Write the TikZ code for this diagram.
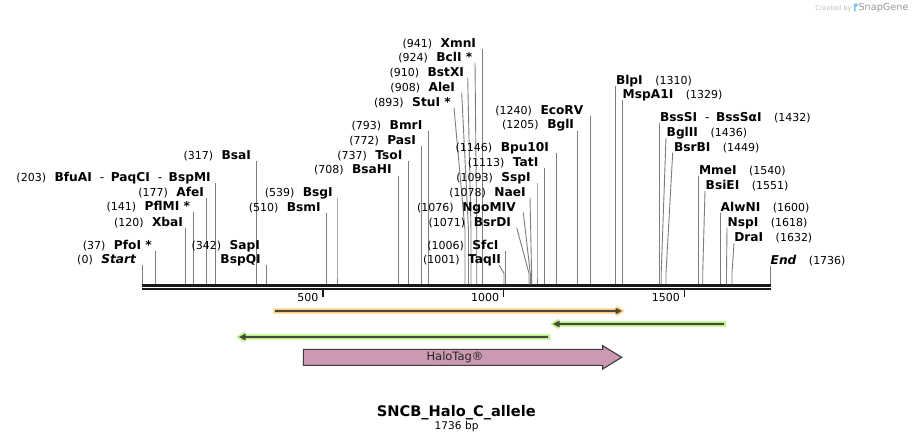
\documentclass[tikz,border=0pt]{standalone}
\usepackage{fontspec}
\setmainfont{DejaVu Sans}
\definecolor{sitec}{RGB}{125,125,125}
\definecolor{bbc}{RGB}{25,25,25}
\definecolor{orangec}{RGB}{255,204,125}
\definecolor{greenc}{RGB}{182,240,128}
\definecolor{darkc}{RGB}{72,72,60}
\definecolor{haloc}{RGB}{204,153,178}
\definecolor{haloedge}{RGB}{60,60,60}
\definecolor{logoc}{RGB}{120,196,240}
\newcommand\numf{\fontsize{11}{13}\selectfont\mdseries}
\newcommand\namef{\fontsize{12.2}{14}\selectfont\bfseries}
\newcommand\sepd{\hspace{8pt}{\mdseries -}\hspace{6.5pt}}
\newcommand\labL[2]{{\numf(#1)}\hspace{8.5pt}{\namef #2}}
\newcommand\labR[2]{{\namef #1}\hspace{12.5pt}{\numf(#2)}}
% #1 id, #2 row centre y, #3 text, #4 text end x, #5 line top x, #6 elbow y, #7 site x
\newcommand\siteLeft[7]{%
  \node[lbl,anchor=base east] (#1) at (#4,#2+4.4) {#3};
  \coordinate (#1t) at (#5,#2+6);
  \coordinate (#1e) at (#7,#6);
  \coordinate (#1s) at (#7,284.3);
  \draw[site] (#1t) -- (#1e) -- (#1s);
}
\newcommand\siteRight[7]{%
  \node[lbl,anchor=base west] (#1) at (#4,#2+4.4) {#3};
  \coordinate (#1t) at (#5,#2+6);
  \coordinate (#1e) at (#7,#6);
  \coordinate (#1s) at (#7,284.3);
  \draw[site] (#1t) -- (#1e) -- (#1s);
}
\begin{document}
\begin{tikzpicture}[x=1pt,y=-1pt,
  lbl/.style={inner sep=0pt,outer sep=0pt,text=black},
  site/.style={draw=sitec,line width=0.9pt},
  backbone/.style={fill=bbc},
  tickmark/.style={draw=bbc,line width=1.6pt},
  ticklbl/.style={lbl,anchor=base east,font=\numf},
  featline/.style={draw=darkc,line width=2pt},
  halo/.style={fill=haloc,draw=haloedge,line width=1.1pt}]
\useasboundingbox (0,0) rectangle (913,442);
\fill[white] (0,0) rectangle (913,442);

% backbone
\fill[backbone] (142.3,284.3) rectangle (770.9,286.8);
\fill[backbone] (142.3,288.1) rectangle (770.9,290.1);
\coordinate (t500) at (322.9,290);
\coordinate (t1000) at (503.6,290);
\coordinate (t1500) at (684.3,290);
\foreach \t/\v in {t500/500,t1000/1000,t1500/1500}{
  \draw[tickmark] (\t) -- ++(0,7);
  \node[ticklbl] (l\t) at ([shift={(-4.5,11)}]\t) {\v};
}

% left-hand labels
\siteLeft{start}{259.3}{\labL{0}{\itshape Start}}{136}{142.5}{273.3}{142.5}
\siteLeft{pfoi}{245}{\labL{37}{PfoI *}}{151.7}{155.5}{273.3}{155.5}
\siteLeft{xbai}{221.7}{\labL{120}{XbaI}}{183}{185.5}{273.3}{185.5}
\siteLeft{pflmi}{205.7}{\labL{141}{PflMI *}}{190}{193.4}{273.3}{193.4}
\siteLeft{afei}{191.7}{\labL{177}{AfeI}}{204}{206.5}{273.3}{206.5}
\siteLeft{bfuai}{176.7}{\labL{203}{BfuAI\sepd PaqCI\sepd BspMI}}{210.7}{215.7}{273.3}{215.7}
\siteLeft{bsai}{155}{\labL{317}{BsaI}}{251}{256.5}{273.3}{256.5}
\node[lbl,anchor=base east] (sapi) at (260,249.4) {\labL{342}{SapI}};
\node[lbl,anchor=base east] (bspqi) at (260.7,263.7) {\namef BspQI};
\coordinate (sapit) at (266.3,265.3);
\coordinate (sapis) at (266.3,284.3);
\draw[site] (sapit) -- (sapis);
\siteLeft{bsmi}{207.3}{\labL{510}{BsmI}}{320.7}{326.5}{273.3}{326.5}
\siteLeft{bsgi}{192.3}{\labL{539}{BsgI}}{332.7}{337}{273.3}{337}
\siteLeft{bsahi}{169.5}{\labL{708}{BsaHI}}{391.7}{398.2}{273.3}{398.2}
\siteLeft{tsoi}{155}{\labL{737}{TsoI}}{402.3}{408.5}{273.3}{408.5}
\siteLeft{pasi}{140}{\labL{772}{PasI}}{416}{421.5}{273.3}{421.5}
\siteLeft{bmri}{125}{\labL{793}{BmrI}}{422.3}{428.8}{273.3}{428.8}
\siteLeft{stui}{101.7}{\labL{893}{StuI *}}{450.7}{454}{230}{465}
\siteLeft{alei}{86.7}{\labL{908}{AleI}}{455}{461.7}{230}{468.5}
\siteLeft{bstxi}{71.7}{\labL{910}{BstXI}}{464}{467.7}{230}{471}
\siteLeft{bcli}{56.7}{\labL{924}{BclI *}}{472.3}{475}{230}{476.7}
\siteLeft{xmni}{42.7}{\labL{941}{XmnI}}{476}{482.3}{273.3}{482.3}
\siteLeft{taqii}{259.3}{\labL{1001}{TaqII}}{501}{499.3}{273.3}{504}
\siteLeft{sfci}{245}{\labL{1006}{SfcI}}{498.3}{505.5}{273.3}{505.5}
\siteLeft{bsrdi}{221.7}{\labL{1071}{BsrDI}}{511}{516.7}{273.3}{529}
\siteLeft{ngomiv}{206.7}{\labL{1076}{NgoMIV}}{515.7}{523.3}{273.3}{530.3}
\siteLeft{naei}{191.7}{\labL{1078}{NaeI}}{525.7}{530}{273.3}{531.6}
\siteLeft{sspi}{176.7}{\labL{1093}{SspI}}{530.7}{537}{273.3}{537}
\siteLeft{tati}{161.7}{\labL{1113}{TatI}}{538.3}{544.3}{273.3}{544.3}
\siteLeft{bpuI}{146.7}{\labL{1146}{Bpu10I}}{549}{556.3}{273.3}{556.3}
\siteLeft{bgli}{124.5}{\labL{1205}{BglI}}{574}{577.5}{273.3}{577.5}
\siteLeft{ecorv}{110}{\labL{1240}{EcoRV}}{583.3}{590.3}{273.3}{590.3}

% right-hand labels
\siteRight{blpi}{80}{\labR{BlpI}{1310}}{616}{615.5}{273.3}{615.5}
\siteRight{mspa}{94.3}{\labR{MspA1I}{1329}}{622.7}{622.4}{273.3}{622.4}
\siteRight{bsssi}{116.7}{\labR{BssSI\sepd BssSαI}{1432}}{660}{659.5}{273.3}{659.5}
\siteRight{bglii}{131.7}{\labR{BglII}{1436}}{666.7}{666}{273.3}{661.2}
\siteRight{bsrbi}{146.7}{\labR{BsrBI}{1449}}{674}{672.7}{273.3}{666}
\siteRight{mmei}{170}{\labR{MmeI}{1540}}{699}{698.5}{273.3}{698.5}
\siteRight{bsiei}{185}{\labR{BsiEI}{1551}}{705.7}{705}{273.3}{702.7}
\siteRight{alwni}{206.7}{\labR{AlwNI}{1600}}{720.7}{720.3}{273.3}{720.3}
\siteRight{nspi}{221.7}{\labR{NspI}{1618}}{727.7}{727}{273.3}{726.5}
\siteRight{drai}{237.3}{\labR{DraI}{1632}}{734.3}{734}{273.3}{732}
\siteRight{endl}{260}{\labR{\itshape End}{1736}}{770.7}{770.7}{273.3}{770.7}

% primer-like arrows
\fill[orangec] (273.3,308.3) -- (616.5,308.3) -- (616.5,305.6) -- (624.5,311) -- (616.5,316.4) -- (616.5,313.7) -- (273.3,313.7) -- cycle;
\draw[featline] (275,311) -- (617,311);
\fill[darkc] (615.5,307.6) -- (621.8,311) -- (615.5,314.4) -- cycle;

\fill[greenc] (726.2,321.3) -- (558.5,321.3) -- (558.5,318.6) -- (550.5,324) -- (558.5,329.4) -- (558.5,326.7) -- (726.2,326.7) -- cycle;
\draw[featline] (724,324) -- (557,324);
\fill[darkc] (559.5,320.6) -- (553.2,324) -- (559.5,327.4) -- cycle;

\fill[greenc] (550.3,334.3) -- (244.5,334.3) -- (244.5,331.6) -- (236.5,337) -- (244.5,342.4) -- (244.5,339.7) -- (550.3,339.7) -- cycle;
\draw[featline] (548.3,337) -- (243,337);
\fill[darkc] (245.5,333.6) -- (239.2,337) -- (245.5,340.4) -- cycle;

% HaloTag feature
\draw[halo] (303.3,349.3) -- (602.7,349.3) -- (602.7,345.7) -- (621.7,357.3) -- (602.7,369) -- (602.7,365.3) -- (303.3,365.3) -- cycle;
\node[lbl,font=\fontsize{11.5}{13}\selectfont,text=black!85] (halotag) at (455,357.3) {HaloTag®};

% title
\node[lbl,anchor=base,font=\fontsize{14.6}{16}\selectfont\bfseries] (title) at (456.3,416) {SNCB\_Halo\_C\_allele};
\node[lbl,anchor=base,font=\fontsize{10.6}{12}\selectfont] (size) at (456.6,429) {1736 bp};

% watermark
\node[lbl,anchor=base west,font=\fontsize{6.6}{7}\selectfont,text=black!25] (created) at (815.3,10) {Created by};
\fill[logoc] (853.8,3.6) rectangle (855.6,11) (855.6,3.6) -- (857.6,3.6) .. controls (858.2,5) .. (855.6,7.2) -- cycle;
\node[lbl,anchor=base west,font=\fontsize{9.7}{11}\selectfont,text=black!40] (snapgene) at (858.5,10.9) {SnapGene};
\end{tikzpicture}
\end{document}
